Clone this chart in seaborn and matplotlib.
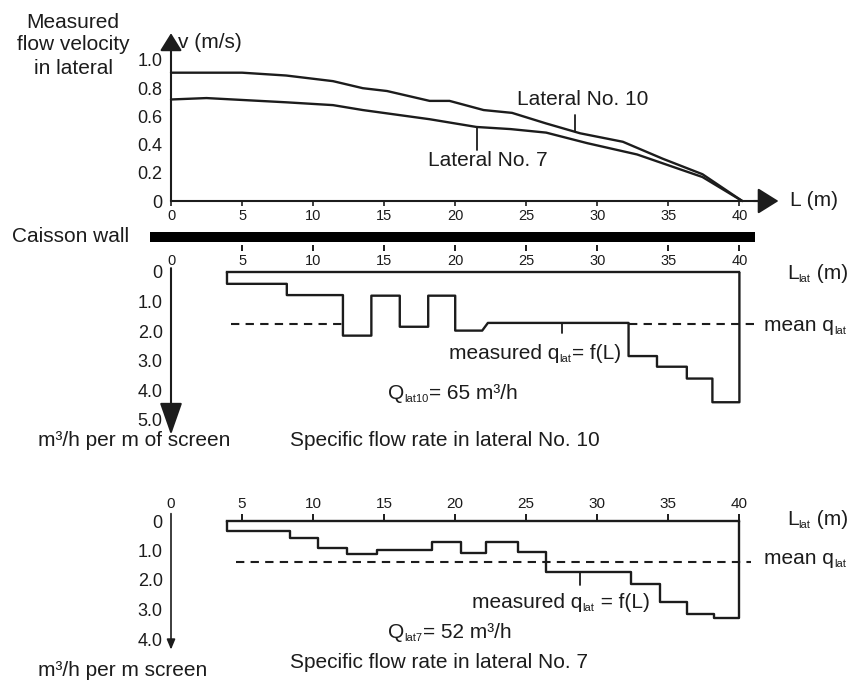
import numpy as np
import pandas as pd
import matplotlib
matplotlib.use("Agg")
import matplotlib.pyplot as plt
import seaborn as sns

# ---------------- data ----------------
# measured flow velocity along the laterals
lat10_L = [0, 5, 8.1, 11.4, 13.5, 15.2, 18.2, 19.6, 22.0, 24.0, 26.4, 28.8, 31.8, 34.6, 37.4, 40.2]
lat10_v = [0.91, 0.91, 0.89, 0.85, 0.80, 0.78, 0.71, 0.71, 0.645, 0.625, 0.55, 0.48, 0.42, 0.30, 0.19, 0.0]
lat7_L = [0, 2.5, 8.1, 11.4, 13.5, 18.2, 21.5, 23.9, 26.4, 29.3, 32.8, 37.4, 40.2]
lat7_v = [0.72, 0.73, 0.70, 0.68, 0.645, 0.58, 0.525, 0.51, 0.485, 0.41, 0.33, 0.17, 0.0]

v_ticks = [0, 0.2, 0.4, 0.6, 0.8, 1.0]
v_tick_labels = ["0", "0.2", "0.4", "0.6", "0.8", "1.0"]
L_ticks = [0, 5, 10, 15, 20, 25, 30, 35, 40]
L_tick_labels = ["0", "5", "10", "15", "20", "25", "30", "35", "40"]

# specific flow rate, lateral No. 10 (segments: start, end, value)
q10_start = [3.94, 8.15, 12.1, 14.1, 16.1, 18.1, 20.0, 22.3, 32.2, 34.2, 36.3, 38.1]
q10_end = [8.15, 12.1, 14.1, 16.1, 18.1, 20.0, 21.9, 32.2, 34.2, 36.3, 38.1, 40.0]
q10_val = [0.40, 0.78, 2.15, 0.80, 1.85, 0.80, 1.98, 1.72, 2.84, 3.20, 3.60, 4.40]
q10_mean = 1.74
q10_mean_spans = [(4.2, 12.1), (32.2, 41.1)]
q10_ticks = [0, 1, 2, 3, 4, 5]
q10_tick_labels = ["0", "1.0", "2.0", "3.0", "4.0", "5.0"]

# specific flow rate, lateral No. 7
q7_start = [3.94, 8.37, 10.33, 12.37, 14.48, 18.35, 20.39, 22.2, 24.4, 26.4, 32.4, 34.4, 36.3, 38.2]
q7_end = [8.37, 10.33, 12.37, 14.48, 18.35, 20.39, 22.2, 24.4, 26.4, 32.4, 34.4, 36.3, 38.2, 40.0]
q7_val = [0.34, 0.58, 0.92, 1.12, 0.98, 0.71, 1.08, 0.71, 1.05, 1.73, 2.14, 2.75, 3.15, 3.29]
q7_mean = 1.39
q7_mean_spans = [(4.6, 40.8)]
q7_ticks = [0, 1, 2, 3, 4]
q7_tick_labels = ["0", "1.0", "2.0", "3.0", "4.0"]

# ---------------- style ----------------
sns.set_theme(style="white")
plt.rcParams["font.family"] = ["Liberation Sans", "DejaVu Sans"]

INK = "#1c1c1c"
LW = 1.5
FS = 15
SUB = 8

W, H = 861, 680
fig = plt.figure(figsize=(W / 100, H / 100), dpi=100)
fig.patch.set_facecolor("white")
renderer = fig.canvas.get_renderer()


def fx(px):
    return px / W


def fy(py):
    return 1 - py / H


def ftext(px, py, s, size=FS, ha="left", va="center"):
    return fig.text(fx(px), fy(py), s, fontsize=size, ha=ha, va=va, color=INK)


def rich(px, py, parts):
    """parts: list of (text, is_subscript); py = vertical centre of main text."""
    base = py + 6
    x = px
    for s, sub in parts:
        t = fig.text(fx(x), fy(base + (3 if sub else 0)), s,
                     fontsize=SUB if sub else FS, ha="left", va="baseline", color=INK)
        x = t.get_window_extent(renderer).x1 + (0.5 if sub else 0)


PX_PER_M = 14.21
X0 = 171
xlim = (-X0 / PX_PER_M, (W - X0) / PX_PER_M)


def arrow(ax, start, tip, lw, scale, hl, hw):
    ax.annotate("", xy=tip, xytext=start, xycoords="data",
                arrowprops=dict(arrowstyle=f"-|>,head_length={hl},head_width={hw}",
                                mutation_scale=scale, lw=lw, color=INK,
                                shrinkA=0, shrinkB=0),
                annotation_clip=False)


def step_outline(starts, ends, vals):
    xs = [starts[0]]
    ys = [0.0]
    for s, e, v in zip(starts, ends, vals):
        xs += [s, e]
        ys += [v, v]
    xs.append(ends[-1])
    ys.append(0.0)
    return pd.DataFrame({"L": xs, "q": ys})


def clean(ax):
    ax.set_facecolor("none")
    for sp in ax.spines.values():
        sp.set_visible(False)
    ax.set_xlim(*xlim)
    ax.grid(False)


# ---------------- top: velocity ----------------
ax1 = fig.add_axes([0, fy(256), 1, 256 / H])
clean(ax1)
ax1.set_ylim(-(256 - 201) / 141, 201 / 141)

vel = pd.concat([
    pd.DataFrame({"L": lat10_L, "v": lat10_v, "lateral": "Lateral No. 10"}),
    pd.DataFrame({"L": lat7_L, "v": lat7_v, "lateral": "Lateral No. 7"}),
])
sns.lineplot(data=vel, x="L", y="v", hue="lateral", palette=[INK, INK],
             estimator=None, sort=False, legend=False, lw=1.7, ax=ax1)
ax1.set_xlabel("")
ax1.set_ylabel("")

ax1.spines["bottom"].set_visible(True)
ax1.spines["bottom"].set_position(("data", 0))
ax1.spines["bottom"].set_bounds(0, 41.5)
ax1.spines["bottom"].set_linewidth(LW)
ax1.spines["bottom"].set_color(INK)
ax1.spines["left"].set_position(("data", 0))
ax1.set_xticks(L_ticks, L_tick_labels)
ax1.tick_params(axis="x", bottom=True, direction="out", length=3.6, width=1.2,
                colors=INK, labelsize=10.5, pad=2.5)
ax1.set_yticks(v_ticks, v_tick_labels)
ax1.tick_params(axis="y", left=True, length=0, pad=6, labelsize=13, colors=INK)

arrow(ax1, (0, 0), (0, 1.19), LW, 27, 0.4, 0.25)
arrow(ax1, (41.0, 0), (42.75, 0), LW, 32, 0.4, 0.25)

# caisson wall bar
ax1.fill_between([-1.48, 41.1], -0.22, -0.291, color="black", lw=0)

# leader lines + labels
ax1.plot([28.4, 28.4], [0.50, 0.61], color=INK, lw=1.3)
ax1.text(29.0, 0.72, "Lateral No. 10", fontsize=FS, ha="center", va="center", color=INK)
ax1.plot([21.5, 21.5], [0.525, 0.36], color=INK, lw=1.3)
ax1.text(22.3, 0.29, "Lateral No. 7", fontsize=FS, ha="center", va="center", color=INK)

ftext(73, 22, "Measured", ha="center")
ftext(73, 45, "flow velocity", ha="center")
ftext(73, 68, "in lateral", ha="center")
ftext(178, 42, "v (m/s)")
ftext(790, 200, "L (m)")
ftext(12, 237, "Caisson wall")

# ---------------- middle: lateral No. 10 ----------------
ax2 = fig.add_axes([0, fy(445), 1, (445 - 272) / H])
clean(ax2)
ax2.set_ylim((445 - 272) / 29.6, 0)

prof10 = step_outline(q10_start, q10_end, q10_val)
sns.lineplot(data=prof10, x="L", y="q", estimator=None, sort=False, color=INK,
             lw=1.7, ax=ax2)
for a, b in q10_mean_spans:
    ax2.plot([a, b], [q10_mean, q10_mean], color=INK, lw=1.5, dashes=(4, 3))
ax2.set_xlabel("")
ax2.set_ylabel("")

ax2.spines["top"].set_visible(True)
ax2.spines["top"].set_bounds(q10_start[0], q10_end[-1])
ax2.spines["top"].set_linewidth(1.7)
ax2.spines["top"].set_color(INK)
ax2.xaxis.tick_top()
ax2.set_xticks(L_ticks, L_tick_labels)
ax2.tick_params(axis="x", top=True, length=0, pad=3, labelsize=10.5, colors=INK)
ax2.spines["left"].set_position(("data", 0))
ax2.set_yticks(q10_ticks, q10_tick_labels)
ax2.tick_params(axis="y", left=True, length=0, pad=6, labelsize=13, colors=INK)
ax2.vlines(L_ticks[1:], -0.91, -0.71, color=INK, lw=1.4, clip_on=False)

arrow(ax2, (0, -0.13), (0, 5.5), LW, 25, 0.8, 0.28)
ax2.plot([27.5, 27.5], [1.72, 2.06], color=INK, lw=1.3)

rich(787, 273, [("L", False), ("lat", True), (" (m)", False)])
rich(764, 325, [("mean q", False), ("lat", True)])
rich(449, 353, [("measured q", False), ("lat", True), ("= f(L)", False)])
rich(388, 393, [("Q", False), ("lat10", True), ("= 65 m³/h", False)])
ftext(38, 440, "m³/h per m of screen")
ftext(290, 440, "Specific flow rate in lateral No. 10")

# ---------------- bottom: lateral No. 7 ----------------
ax3 = fig.add_axes([0, fy(680), 1, (680 - 521) / H])
clean(ax3)
ax3.set_ylim((680 - 521) / 29.5, 0)

prof7 = step_outline(q7_start, q7_end, q7_val)
sns.lineplot(data=prof7, x="L", y="q", estimator=None, sort=False, color=INK,
             lw=1.7, ax=ax3)
for a, b in q7_mean_spans:
    ax3.plot([a, b], [q7_mean, q7_mean], color=INK, lw=1.5, dashes=(4, 3))
ax3.set_xlabel("")
ax3.set_ylabel("")

ax3.spines["top"].set_visible(True)
ax3.spines["top"].set_bounds(q7_start[0], q7_end[-1])
ax3.spines["top"].set_linewidth(1.7)
ax3.spines["top"].set_color(INK)
ax3.xaxis.tick_top()
ax3.set_xticks(L_ticks, L_tick_labels)
ax3.tick_params(axis="x", top=True, direction="out", length=5, width=1.4,
                pad=2.5, labelsize=11, colors=INK)
ax3.xaxis.get_major_ticks()[0].tick2line.set_visible(False)
ax3.spines["left"].set_position(("data", 0))
ax3.set_yticks(q7_ticks, q7_tick_labels)
ax3.tick_params(axis="y", left=True, length=0, pad=6, labelsize=13, colors=INK)

arrow(ax3, (0, -0.25), (0, 4.36), 1.2, 10, 0.6, 0.25)
ax3.plot([28.8, 28.8], [1.73, 2.16], color=INK, lw=1.3)

rich(787, 519, [("L", False), ("lat", True), (" (m)", False)])
rich(764, 558, [("mean q", False), ("lat", True)])
rich(472, 602, [("measured q", False), ("lat", True), (" = f(L)", False)])
rich(388, 632, [("Q", False), ("lat7", True), ("= 52 m³/h", False)])
ftext(290, 662, "Specific flow rate in lateral No. 7")
ftext(38, 670, "m³/h per m screen")

fig.savefig("out.png", dpi=100)
